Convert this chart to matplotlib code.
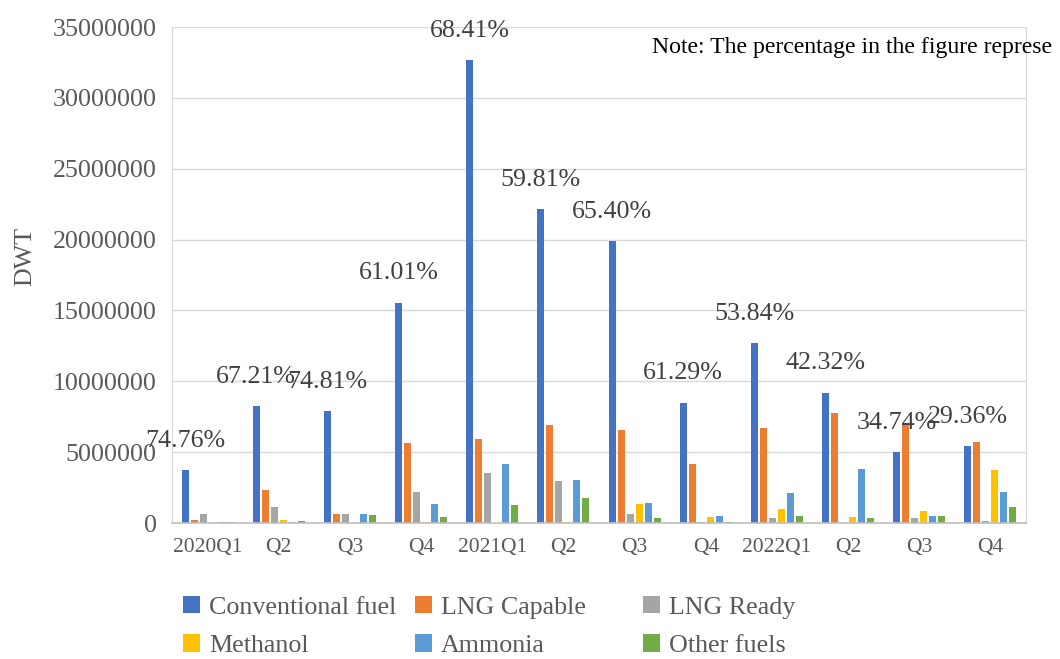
import matplotlib.pyplot as plt
from matplotlib.patches import Patch
from matplotlib.ticker import FuncFormatter
import numpy as np

plt.rcParams['font.family'] = ['Liberation Serif', 'DejaVu Serif']

quarters = ["2020Q1", "Q2", "Q3", "Q4", "2021Q1", "Q2", "Q3", "Q4", "2022Q1", "Q2", "Q3", "Q4"]
conventional = [3.75e6, 8.27e6, 7.88e6, 15.55e6, 32.65e6, 22.15e6, 19.9e6, 8.5e6, 12.7e6, 9.2e6, 5.03e6, 5.43e6]
lng_capable = [0.2e6, 2.33e6, 0.6e6, 5.62e6, 5.92e6, 6.89e6, 6.58e6, 4.14e6, 6.72e6, 7.75e6, 7.03e6, 5.7e6]
lng_ready = [0.65e6, 1.13e6, 0.63e6, 2.2e6, 3.5e6, 2.96e6, 0.61e6, 0.07e6, 0.35e6, 0.0, 0.33e6, 0.14e6]
methanol = [0.0, 0.2e6, 0.0, 0.08e6, 0.0, 0.1e6, 1.34e6, 0.45e6, 1.01e6, 0.42e6, 0.87e6, 3.72e6]
ammonia = [0.09e6, 0.1e6, 0.6e6, 1.36e6, 4.16e6, 3.0e6, 1.43e6, 0.52e6, 2.14e6, 3.81e6, 0.52e6, 2.21e6]
other_fuels = [0.06e6, 0.12e6, 0.55e6, 0.42e6, 1.27e6, 1.74e6, 0.38e6, 0.07e6, 0.47e6, 0.38e6, 0.52e6, 1.15e6]
shares = ["74.76%", "67.21%", "74.81%", "61.01%", "68.41%", "59.81%",
          "65.40%", "61.29%", "53.84%", "42.32%", "34.74%", "29.36%"]

series = [conventional, lng_capable, lng_ready, methanol, ammonia, other_fuels]
names = ["Conventional fuel", "LNG Capable", "LNG Ready", "Methanol", "Ammonia", "Other fuels"]
colors = ["#4472C4", "#ED7D31", "#A5A5A5", "#FFC000", "#5B9BD5", "#70AD47"]

W, H = 1060, 659
fig = plt.figure(figsize=(W / 100, H / 100), dpi=100)
ax = fig.add_axes([172 / W, 1 - 523 / H, 854 / W, 496 / H])

x = np.arange(len(quarters))
slot = 0.1266
for k, vals in enumerate(series):
    ax.bar(x + (k - 2.5) * slot, vals, width=0.098, color=colors[k], zorder=3)

# share of conventional fuel, written above the conventional bar
for i, txt in enumerate(shares):
    ax.annotate(txt, (x[i] - 2.5 * slot, conventional[i]), xytext=(0, 21), textcoords='offset points',
                ha='center', va='center', fontsize=18.7, color='#404040', zorder=4)

ax.set_xlim(-0.5, len(quarters) - 0.5)
ax.set_ylim(0, 35000000)
ax.set_yticks(np.arange(0, 35000001, 5000000))
ax.yaxis.set_major_formatter(FuncFormatter(lambda v, p: "%d" % v))
ax.set_xticks(x)
ax.set_xticklabels(quarters)
ax.tick_params(axis='both', length=0, labelcolor='#595959')
ax.tick_params(axis='y', pad=11, labelsize=18.7)
ax.tick_params(axis='x', pad=11, labelsize=15.5)
ax.grid(axis='y', color='#D9D9D9', linewidth=1.0, zorder=0)
for side in ['left', 'right', 'top']:
    ax.spines[side].set_color('#D9D9D9')
ax.spines['top'].set_visible(False)
ax.spines['bottom'].set_color('#BFBFBF')
ax.spines['bottom'].set_linewidth(1.2)
ax.spines['bottom'].set_zorder(4)

fig.text(25 / W, 1 - 257 / H, "DWT", rotation=90, ha='center', va='center', fontsize=18.7, color='#595959')
# the note is cut at the right edge in the source figure
fig.text(652 / W, 1 - 48 / H, "Note: The percentage in the figure represe", ha='left', va='center',
         fontsize=17.1, color='#000000')

# legend laid out as three columns of two rows
col_x = [183, 415, 643]
for c in range(3):
    handles = [Patch(facecolor=colors[c + 3 * r], edgecolor='none') for r in range(2)]
    leg = fig.legend(handles, [names[c + 3 * r] for r in range(2)], loc='upper left',
                     bbox_to_anchor=(col_x[c] / W, 1 - 596 / H), frameon=False, fontsize=18.7,
                     handlelength=0.65, handleheight=0.65, handletextpad=0.35, labelspacing=0.6,
                     borderpad=0, borderaxespad=0, labelcolor='#595959')

plt.savefig("out.png", dpi=100)
